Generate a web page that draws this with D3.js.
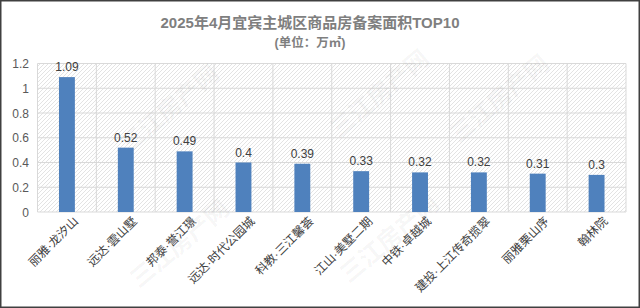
<!DOCTYPE html>
<html>
<head>
<meta charset="utf-8">
<script src="https://cdn.jsdelivr.net/npm/d3@7"></script>
<style>
  body { margin: 0; background: #fff; }
  svg { display: block; font-family: "Liberation Sans", "Noto Sans CJK SC", sans-serif; }
</style>
</head>
<body>
<svg width="640" height="308"></svg>
<script>
let width = 640,
  height = 308;

// data
let projects = ["丽雅·龙汐山", "远达·雲山墅", "邦泰·誉江璟", "远达·时代公园城", "科教·三江馨荟",
  "江山·美墅二期", "中铁·卓越城", "建投·上江传奇揽翠", "丽雅栗山序", "翰林院"];
let areas = [1.09, 0.52, 0.49, 0.4, 0.39, 0.33, 0.32, 0.32, 0.31, 0.3];
let yTicks = [0, 0.2, 0.4, 0.6, 0.8, 1, 1.2];

let svg = d3.select("svg");

// outer frame
svg.append("rect")
  .attr("x", 0.75).attr("y", 0.75)
  .attr("width", width - 1.5).attr("height", height - 1.5)
  .attr("fill", "#fff").attr("stroke", "#404040").attr("stroke-width", 1.5);

// hatch pattern for the plot area
let defs = svg.append("defs");
let pat = defs.append("pattern")
  .attr("id", "hatch")
  .attr("patternUnits", "userSpaceOnUse")
  .attr("width", 4).attr("height", 4);
pat.append("path")
  .attr("d", "M-1,1 l2,-2 M0,4 l4,-4 M3,5 l2,-2")
  .attr("stroke", "#dcdcdc").attr("stroke-width", 0.8);

let plotLeft = 37.5, plotRight = 626, plotTop = 63.5, plotBottom = 212;

let x = d3.scaleBand().domain(projects).range([plotLeft, plotRight]).paddingInner(0.73).paddingOuter(0.365);
let xCell = d3.scaleBand().domain(projects).range([plotLeft, plotRight]);
let y = d3.scaleLinear().domain([0, 1.2]).range([plotBottom, plotTop]);

svg.append("rect")
  .attr("x", plotLeft).attr("y", plotTop)
  .attr("width", plotRight - plotLeft).attr("height", plotBottom - plotTop)
  .attr("fill", "url(#hatch)");

// grid lines
svg.append("g")
  .selectAll("line")
  .data(yTicks)
  .enter()
  .append("line")
  .attr("x1", plotLeft).attr("x2", plotRight)
  .attr("y1", (d) => y(d)).attr("y2", (d) => y(d))
  .attr("stroke", "#d9d9d9").attr("stroke-width", 1);

svg.append("g")
  .selectAll("line")
  .data(projects)
  .enter()
  .append("line")
  .attr("x1", (d) => xCell(d)).attr("x2", (d) => xCell(d))
  .attr("y1", plotTop).attr("y2", plotBottom)
  .attr("stroke", "#d9d9d9").attr("stroke-width", 1);

svg.append("line")
  .attr("x1", plotRight).attr("x2", plotRight).attr("y1", plotTop).attr("y2", plotBottom)
  .attr("stroke", "#d9d9d9");

// watermarks
let marks = [[175, 115], [385, 100], [505, 105], [185, 250], [395, 245]];
svg.append("g")
  .selectAll("text")
  .data(marks)
  .enter()
  .append("text")
  .attr("transform", (d) => "translate(" + d[0] + "," + d[1] + ") rotate(-40)")
  .attr("text-anchor", "middle")
  .attr("font-size", 24)
  .attr("font-weight", "bold")
  .attr("fill", "#000")
  .attr("fill-opacity", 0.05)
  .text("三江房产网");

// bars
svg.append("g")
  .selectAll("rect")
  .data(areas)
  .enter()
  .append("rect")
  .attr("x", (d, i) => x(projects[i]))
  .attr("y", (d) => y(d))
  .attr("width", x.bandwidth())
  .attr("height", (d) => plotBottom - y(d))
  .attr("fill", "#4f81bd");

// value labels
svg.append("g")
  .selectAll("text")
  .data(areas)
  .enter()
  .append("text")
  .attr("x", (d, i) => x(projects[i]) + x.bandwidth() / 2)
  .attr("y", (d) => y(d) - 6)
  .attr("text-anchor", "middle")
  .attr("font-size", 12)
  .attr("fill", "#404040")
  .text((d) => d);

// y axis labels
svg.append("g")
  .selectAll("text")
  .data(yTicks)
  .enter()
  .append("text")
  .attr("x", 29)
  .attr("y", (d) => y(d) + 4.5)
  .attr("text-anchor", "end")
  .attr("font-size", 12)
  .attr("fill", "#595959")
  .text((d) => d);

// x axis labels, rotated
svg.append("g")
  .selectAll("text")
  .data(projects)
  .enter()
  .append("text")
  .attr("transform", (d) => "translate(" + (xCell(d) + xCell.bandwidth() / 2 + 12) + ",222) rotate(-45)")
  .attr("text-anchor", "end")
  .attr("font-size", 12)
  .attr("fill", "#404040")
  .text((d) => d);

// title
svg.append("text")
  .attr("x", 310).attr("y", 28)
  .attr("text-anchor", "middle")
  .attr("font-size", 15)
  .attr("font-weight", "bold")
  .attr("fill", "#7f7f7f")
  .text("2025年4月宜宾主城区商品房备案面积TOP10");

svg.append("text")
  .attr("x", 310).attr("y", 46.5)
  .attr("text-anchor", "middle")
  .attr("font-size", 12.5)
  .attr("font-weight", "bold")
  .attr("fill", "#7f7f7f")
  .text("(单位：万㎡)");
</script>
</body>
</html>
